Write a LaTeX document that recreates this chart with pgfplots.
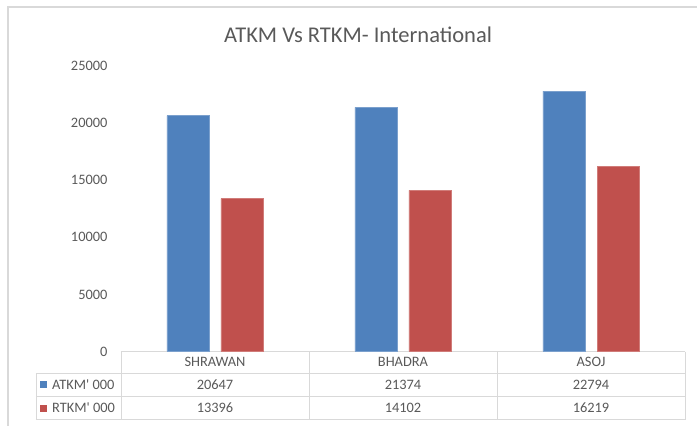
\documentclass[border=0pt]{standalone}
\usepackage{fontspec}
\setmainfont{Carlito}
\usepackage{pgfplots}
\pgfplotsset{compat=1.18}
\definecolor{bblue}{HTML}{4F81BD}
\definecolor{bred}{HTML}{C0504D}
\definecolor{txt}{HTML}{595959}
\definecolor{gridc}{HTML}{D9D9D9}
\newcommand{\tfont}{\fontsize{14.4}{16}\selectfont}
\begin{document}
\begin{tikzpicture}[x=1pt,y=1pt]
\path[use as bounding box] (-121,-74.5) rectangle (576,351.5);
\draw[gridc, line width=1.2pt] (-113,-80) -- (-113,344.5) -- (580,344.5);
% data table grid
\begin{scope}[draw=gridc, line width=0.9pt]
\draw (0,0) -- (564,0);
\draw (-85,-21.5) -- (564,-21.5);
\draw (-85,-44.5) -- (564,-44.5);
\draw (-85,-68) -- (564,-68);
\draw (-85,-21.5) -- (-85,-68);
\foreach \x in {0,188,376,564} \draw (\x,0) -- (\x,-68);
\end{scope}
\node[font=\fontsize{22.5}{26}\selectfont, text=txt] at (237,316.5) {ATKM Vs RTKM- International};
\begin{scope}[font=\tfont, text=txt]
\node at (94,-10.5) {SHRAWAN};
\node at (282,-10.5) {BHADRA};
\node at (470,-10.5) {ASOJ};
\node at (94,-33) {20647};
\node at (282,-33) {21374};
\node at (470,-33) {22794};
\node at (94,-56.5) {13396};
\node at (282,-56.5) {14102};
\node at (470,-56.5) {16219};
\fill[bblue] (-81,-36.5) rectangle (-74,-29.5);
\fill[bred] (-81,-60) rectangle (-74,-53);
\node[anchor=west, inner sep=0pt] at (-69,-33) {ATKM\textquotesingle\ 000};
\node[anchor=west, inner sep=0pt] at (-69,-56.5) {RTKM\textquotesingle\ 000};
\end{scope}
\begin{axis}[at={(0,0)}, anchor=south west, scale only axis,
  width=564pt, height=285.5pt,
  xmin=-0.5, xmax=2.5, ymin=0, ymax=25000,
  axis line style={draw=none},
  xtick=\empty, ytick={0,5000,...,25000},
  major tick length=0pt,
  yticklabel style={font=\tfont, text=txt, xshift=-10pt},
  /pgf/number format/assume math mode=true,
  scaled y ticks=false, /pgf/number format/1000 sep={},
  ybar, bar width=42pt, clip=false]
\addplot[fill=bblue, draw=bblue!75!white, line width=0.6pt, bar shift=-27pt] coordinates {(0,20647) (1,21374) (2,22794)};
\addplot[fill=bred, draw=bred!75!white, line width=0.6pt, bar shift=27pt] coordinates {(0,13396) (1,14102) (2,16219)};
\end{axis}
\end{tikzpicture}
\end{document}
